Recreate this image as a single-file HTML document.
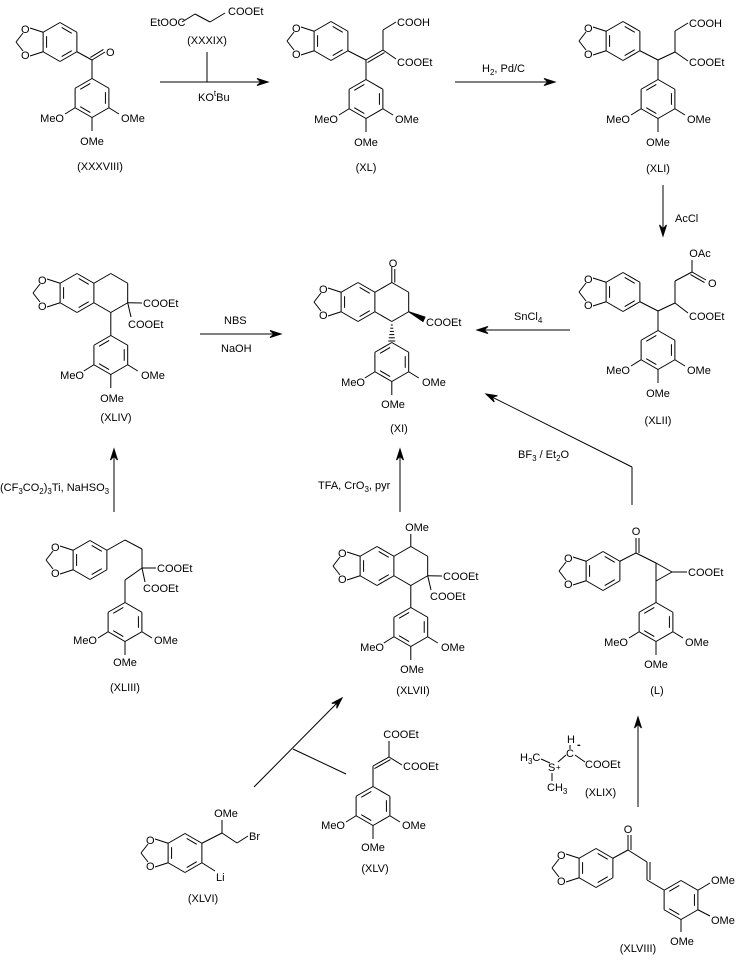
<!DOCTYPE html>
<html><head><meta charset="utf-8"><style>
html,body{margin:0;padding:0;background:#fff}
svg{display:block}
text{font-family:"Liberation Sans",Arial,sans-serif;font-size:11px;fill:#000}
.s{font-size:8px}
</style></head><body>
<svg id="sv" width="739" height="967" viewBox="0 0 739 967" xmlns="http://www.w3.org/2000/svg">
<g id="g" stroke="#000" stroke-width="1" fill="none"></g>
<g id="t">
<!-- XXXVIII -->
<text x="21" y="33">O</text><text x="21" y="59">O</text>
<text x="106" y="56">O</text>
<text x="64" y="122" text-anchor="end">MeO</text><text x="121" y="122">OMe</text><text x="92" y="145" text-anchor="middle">OMe</text>
<text x="100" y="170" text-anchor="middle">(XXXVIII)</text>
<!-- XXXIX -->
<text x="150" y="26">EtOOC</text><text x="228" y="15">COOEt</text>
<text x="207" y="44" text-anchor="middle">(XXXIX)</text>
<text x="198" y="101">KO<tspan class="s" dy="-5">t</tspan><tspan dy="5">Bu</tspan></text>
<!-- XL -->
<text x="292" y="32">O</text><text x="292" y="58">O</text>
<text x="397" y="26">COOH</text><text x="397" y="66">COOEt</text>
<text x="338" y="123" text-anchor="end">MeO</text><text x="395" y="123">OMe</text><text x="366" y="146" text-anchor="middle">OMe</text>
<text x="366" y="171" text-anchor="middle">(XL)</text>
<text x="482" y="72">H<tspan class="s" dy="3">2</tspan><tspan dy="-3">, Pd/C</tspan></text>
<!-- XLI -->
<text x="584" y="32">O</text><text x="584" y="58">O</text>
<text x="689" y="27">COOH</text><text x="689" y="66">COOEt</text>
<text x="630" y="123" text-anchor="end">MeO</text><text x="687" y="123">OMe</text><text x="658" y="146" text-anchor="middle">OMe</text>
<text x="658" y="172" text-anchor="middle">(XLI)</text>
<text x="675" y="222">AcCl</text>
<!-- XLII -->
<text x="584" y="283">O</text><text x="584" y="309">O</text>
<text x="700" y="257" text-anchor="middle">OAc</text><text x="708" y="287">O</text>
<text x="689" y="320">COOEt</text>
<text x="630" y="374" text-anchor="end">MeO</text><text x="687" y="374">OMe</text><text x="658" y="397" text-anchor="middle">OMe</text>
<text x="658" y="424" text-anchor="middle">(XLII)</text>
<text x="514" y="320">SnCl<tspan class="s" dy="3">4</tspan></text>
<!-- XI -->
<text x="319" y="293">O</text><text x="319" y="319">O</text>
<text x="393" y="267" text-anchor="middle">O</text>
<text x="426" y="326">COOEt</text>
<text x="365" y="386" text-anchor="end">MeO</text><text x="422" y="386">OMe</text><text x="393" y="408" text-anchor="middle">OMe</text>
<text x="399" y="432" text-anchor="middle">(XI)</text>
<text x="518" y="458">BF<tspan class="s" dy="3">3</tspan><tspan dy="-3"> / Et</tspan><tspan class="s" dy="3">2</tspan><tspan dy="-3">O</tspan></text>
<!-- XLIV -->
<text x="38" y="284">O</text><text x="38" y="310">O</text>
<text x="143" y="307">COOEt</text><text x="128" y="328">COOEt</text>
<text x="84" y="379" text-anchor="end">MeO</text><text x="141" y="379">OMe</text><text x="112" y="402" text-anchor="middle">OMe</text>
<text x="116" y="421" text-anchor="middle">(XLIV)</text>
<text x="224" y="324">NBS</text><text x="221" y="352">NaOH</text>
<text x="0" y="491">(CF<tspan class="s" dy="3">3</tspan><tspan dy="-3">CO</tspan><tspan class="s" dy="3">2</tspan><tspan dy="-3">)</tspan><tspan class="s" dy="3">3</tspan><tspan dy="-3">Ti, NaHSO</tspan><tspan class="s" dy="3">3</tspan></text>
<!-- XLIII -->
<text x="51" y="551">O</text><text x="51" y="577">O</text>
<text x="157" y="572">COOEt</text><text x="143" y="592">COOEt</text>
<text x="97" y="644" text-anchor="end">MeO</text><text x="154" y="644">OMe</text><text x="125" y="666" text-anchor="middle">OMe</text>
<text x="125" y="691" text-anchor="middle">(XLIII)</text>
<!-- XLVII -->
<text x="318" y="489">TFA, CrO<tspan class="s" dy="3">3</tspan><tspan dy="-3">, pyr</tspan></text>
<text x="417" y="531" text-anchor="middle">OMe</text>
<text x="338" y="557">O</text><text x="338" y="583">O</text>
<text x="443" y="580">COOEt</text><text x="430" y="600">COOEt</text>
<text x="384" y="651" text-anchor="end">MeO</text><text x="441" y="651">OMe</text><text x="412" y="673" text-anchor="middle">OMe</text>
<text x="413" y="694" text-anchor="middle">(XLVII)</text>
<!-- L -->
<text x="636" y="535" text-anchor="middle">O</text>
<text x="564" y="562">O</text><text x="564" y="588">O</text>
<text x="688" y="576">COOEt</text>
<text x="628" y="646" text-anchor="end">MeO</text><text x="685" y="646">OMe</text><text x="656" y="668" text-anchor="middle">OMe</text>
<text x="657" y="694" text-anchor="middle">(L)</text>
<!-- XLIX -->
<text x="571" y="743" text-anchor="middle">H</text>
<text x="566" y="757">C</text><text x="577" y="748" font-weight="bold">-</text>
<text x="520" y="761">H<tspan class="s" dy="3">3</tspan><tspan dy="-3">C</tspan></text>
<text x="548" y="771">S</text><text x="556" y="770" class="s">+</text>
<text x="547" y="791">CH<tspan class="s" dy="3">3</tspan></text>
<text x="585" y="768">COOEt</text>
<text x="585" y="796">(XLIX)</text>
<!-- XLVIII -->
<text x="628" y="833" text-anchor="middle">O</text>
<text x="557" y="859">O</text><text x="557" y="885">O</text>
<text x="711" y="884">OMe</text><text x="711" y="924">OMe</text><text x="682" y="945" text-anchor="middle">OMe</text>
<text x="638" y="952" text-anchor="middle">(XLVIII)</text>
<!-- XLVI -->
<text x="226" y="817" text-anchor="middle">OMe</text>
<text x="249" y="840">Br</text><text x="216" y="881">Li</text>
<text x="146" y="844">O</text><text x="146" y="870">O</text>
<text x="203" y="902" text-anchor="middle">(XLVI)</text>
<!-- XLV -->
<text x="401" y="738" text-anchor="middle">COOEt</text><text x="403" y="770">COOEt</text>
<text x="345" y="829" text-anchor="end">MeO</text><text x="402" y="829">OMe</text><text x="373" y="851" text-anchor="middle">OMe</text>
<text x="375" y="872" text-anchor="middle">(XLV)</text>
</g>
</svg>
<script>
(function(){
var g=document.getElementById('g'),NS='http://www.w3.org/2000/svg';
function ln(a,b,c,d){var e=document.createElementNS(NS,'line');e.setAttribute('x1',a);e.setAttribute('y1',b);e.setAttribute('x2',c);e.setAttribute('y2',d);g.appendChild(e);}
function pl(p){for(var i=0;i+3<p.length;i+=2)ln(p[i],p[i+1],p[i+2],p[i+3]);}
function poly(pts,fill){var e=document.createElementNS(NS,'polygon');e.setAttribute('points',pts.join(' '));e.setAttribute('fill',fill||'#000');g.appendChild(e);}
function V(cx,cy,r,i){var a=(-90+60*i)*Math.PI/180;return [cx+r*Math.cos(a),cy+r*Math.sin(a)];}
function ring(cx,cy,r,dbl,skip){r=r||19.5;dbl=dbl||[0,2,4];skip=skip||[];
 for(var i=0;i<6;i++){if(skip.indexOf(i)>=0)continue;var p=V(cx,cy,r,i),q=V(cx,cy,r,i+1);ln(p[0],p[1],q[0],q[1]);}
 dbl.forEach(function(i){var p=V(cx,cy,r-4,i),q=V(cx,cy,r-4,i+1);var mx=(p[0]+q[0])/2,my=(p[1]+q[1])/2;
  ln(mx+(p[0]-mx)*0.75,my+(p[1]-my)*0.75,mx+(q[0]-mx)*0.75,my+(q[1]-my)*0.75);});}
function bd(cx,cy){ring(cx,cy,19.5,[0,2,4]);var a=V(cx,cy,19.5,5),b=V(cx,cy,19.5,4);
 ln(a[0],a[1],cx-30,cy-14);ln(b[0],b[1],cx-30,cy+14);ln(cx-37,cy-9,cx-44,cy);ln(cx-37,cy+9,cx-44,cy);}
function ar(cx,cy){ring(cx,cy,19.5,[1,3,5]);ln(cx-16.9,cy+9.75,cx-27,cy+16);ln(cx+16.9,cy+9.75,cx+27,cy+16);ln(cx,cy+19.5,cx,cy+33);}
function dbl(a,b,c,d,o){o=o||3;var dx=c-a,dy=d-b,L=Math.hypot(dx,dy),nx=-dy/L*o,ny=dx/L*o;ln(a,b,c,d);ln(a+nx,b+ny,c+nx,d+ny);}
function arrow(a,b,c,d){var dx=c-a,dy=d-b,L=Math.hypot(dx,dy),ux=dx/L,uy=dy/L;ln(a,b,c-ux*6,d-uy*6);
 poly([c,d,c-ux*11+uy*3.5,d-uy*11-ux*3.5,c-ux*7,d-uy*7,c-ux*11-uy*3.5,d-uy*11+ux*3.5]);}
// XXXVIII
bd(60,42);pl([76.9,51.75,92,60]);dbl(92,60,105,52,-3);pl([92,60,92,78.5]);ar(92,98);
// XXXIX
pl([182,22,195,14,210,22,225,13]);
arrow(160,82,268,82);ln(207,52,207,82);
// XL
bd(331,41);pl([347.9,50.75,366,60]);dbl(366,60,383,50,3);pl([383,50,383,30,396,22]);pl([383,50,396,59]);pl([366,60,366,79.5]);ar(366,99);
arrow(455,82,555,82);
// XLI
bd(623,41);pl([639.9,50.75,658,60,675,52,675,31,688,23]);pl([675,52,688,61]);pl([658,60,658,79.5]);ar(658,99);
arrow(663,185,663,236);
// XLII
bd(623,292);pl([639.9,301.75,658,311,675,303,675,281,692,272,692,260]);dbl(692,272,706,280,3);pl([675,303,688,313]);pl([658,311,658,330.5]);ar(658,350);
arrow(570,330,477,330);
// XI
bd(358,302);ring(391.8,302,19.5,[],[4]);ln(391.8,282.5,391.8,267);ln(394.8,282.5,394.8,269);
poly([408.7,311.75,425,317,423,321.5]);
for(var k=0;k<6;k++){var y=325+k*3.2,w=1+k*0.5;ln(391.8-w,y,391.8+w,y);}
ar(391.8,362);
pl([632,505,632,467]);arrow(632,467,486,394);
// XLIV
bd(77,293);ring(110.8,293,19.5,[],[4]);pl([127.7,302.75,142,303]);pl([127.7,302.75,131,317]);pl([110.8,312.5,110.8,335.5]);ar(110.8,355);
arrow(200,334,281,334);
arrow(114,512,114,449);
// XLIII
bd(90,560);pl([106.9,550.25,125,540,142,549,142,568,156,568]);pl([142,568,145,582]);pl([142,568,125,580,125,602.5]);ar(125,622);
// XLVII
arrow(400,512,400,449);
bd(377,566);ring(410.8,566,19.5,[],[4]);pl([410.8,546.5,410.8,534]);pl([427.7,575.75,442,576]);pl([427.7,575.75,431,590]);pl([410.8,585.5,410.8,607.5]);ar(410.8,627);
// L
bd(603,571);pl([619.9,561.25,636,553]);dbl(636,553,636,538,3);pl([636,553,656,563,672,572,656,581,656,563]);pl([672,572,687,572]);pl([656,581,656,602.5]);ar(656,622);
arrow(638,807,638,717);
// XLIX
pl([541,759,550,763]);pl([552,773,552,781]);pl([558,762,566,755]);pl([570,745,570,749]);pl([575,755,585,762]);
// XLVIII
bd(596,868);pl([612.9,858.25,628,850]);dbl(628,850,628,835,3);pl([628,850,647,862]);dbl(647,862,647,880,-3);pl([647,880,664,890]);
ring(681,900,19.5,[1,3,5]);ln(697.9,890.25,710,883);ln(697.9,909.75,710,916);ln(681,919.5,681,932);
// arrow diagonal
arrow(254,787,342,698);ln(293,749,346,774);
// XLVI
bd(185,853);pl([201.9,843.25,222,833,222,820]);pl([222,833,237,843,248,836]);pl([201.9,862.75,215,871]);
// XLV
ar(373,806);pl([373,786.5,373,766]);dbl(373,766,389,757,3);pl([389,757,389,741]);pl([389,757,402,765]);
})();
</script>
</body></html>
